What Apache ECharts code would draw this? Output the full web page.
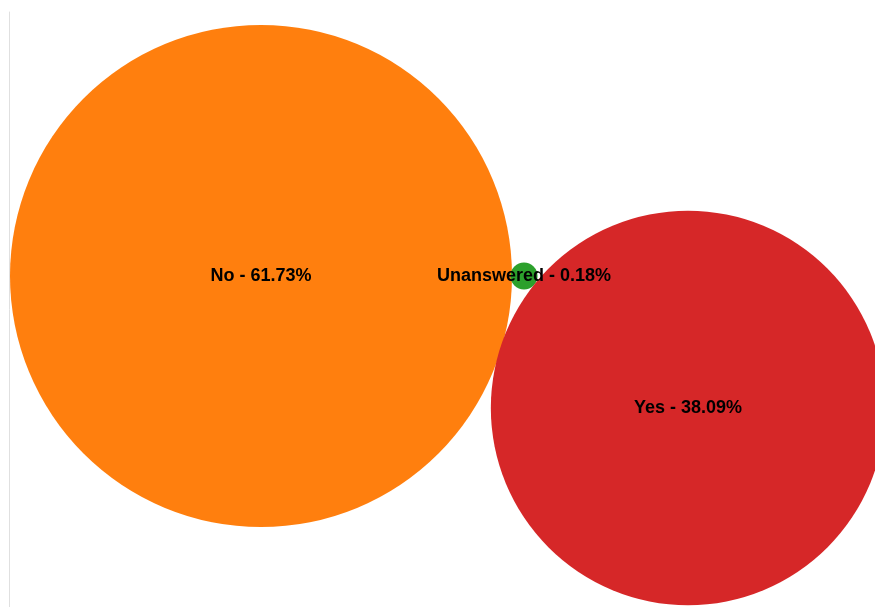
<!DOCTYPE html>
<html>
<head>
<meta charset="utf-8">
<script src="https://cdn.jsdelivr.net/npm/echarts@6/dist/echarts.min.js"></script>
<style>
  html, body { margin: 0; padding: 0; background: #fff; }
  #bubbles { width: 875px; height: 607px; }
</style>
</head>
<body>
<div id="bubbles"></div>
<script>
  // answers and their share, in percent
  var answers = ['No', 'Unanswered', 'Yes'];
  var shares = [61.73, 0.18, 38.09];
  // packed bubble centres (layout units)
  var centreX = [252, 515, 679];
  var centreY = [264, 264, 396];
  var colors = ['#ff7f0e', '#2ca02c', '#d62728'];

  var chart = echarts.init(document.getElementById('bubbles'));
  var biggest = Math.max.apply(null, shares);

  chart.setOption({
    animation: false,
    grid: { left: 9, right: 0, top: 12, bottom: 0 },
    xAxis: {
      type: 'value', min: 0, max: 866,
      show: false
    },
    yAxis: {
      type: 'value', min: 0, max: 595, inverse: true,
      axisLine: { show: true, lineStyle: { color: '#e0e0e0', width: 1 } },
      axisTick: { show: false },
      axisLabel: { show: false },
      splitLine: { show: false }
    },
    series: [{
      type: 'scatter',
      symbol: 'circle',
      symbolSize: function (val) {
        return 502 * Math.sqrt(val[2] / biggest);
      },
      label: {
        show: true,
        position: 'inside',
        color: '#000',
        fontFamily: 'Liberation Sans, Arial, sans-serif',
        fontWeight: 'bold',
        fontSize: 18,
        offset: [1, 2],
        formatter: function (p) {
          return p.name + ' - ' + p.value[2].toFixed(2) + '%';
        }
      },
      labelLayout: { hideOverlap: false },
      data: answers.map(function (a, i) {
        return {
          name: a,
          value: [centreX[i], centreY[i], shares[i]],
          itemStyle: { color: colors[i], opacity: 1 },
          z: i === 1 ? 3 : 2
        };
      })
    }]
  });
</script>
</body>
</html>
